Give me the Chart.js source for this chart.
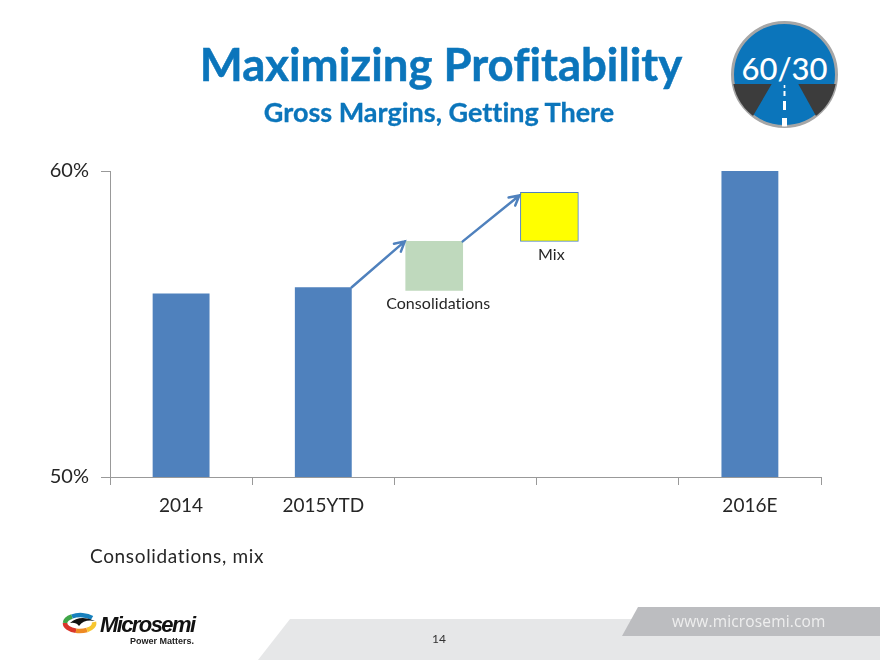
<!DOCTYPE html>
<html>
<head>
<meta charset="utf-8">
<title>Maximizing Profitability</title>
<script src="https://cdn.jsdelivr.net/npm/chart.js@4/dist/chart.umd.min.js"></script>
<style>
  html, body { margin: 0; padding: 0; background: #fff; }
  #page { position: relative; width: 880px; height: 660px; overflow: hidden; font-family: Lato, "Open Sans", sans-serif; font-variant-ligatures: none; }
  #page svg, #mycanvas { position: absolute; left: 0; top: 0; }
  .txt { position: absolute; white-space: nowrap; line-height: 1; }
  #title { left: 0; width: 882px; top: 41px; text-align: center; font-size: 45.5px; font-weight: 700; color: #0b75bb; -webkit-text-stroke: 0.5px #0b75bb; }
  #subtitle { left: 0; width: 878px; top: 98px; text-align: center; font-size: 27px; font-weight: 700; color: #0b75bb; -webkit-text-stroke: 0.3px #0b75bb; }
  #note { left: 90px; top: 546px; font-size: 19px; color: #262626; letter-spacing: 0.65px; }
  #pagenum { left: 0; width: 878px; top: 633px; text-align: center; font-size: 12px; color: #333; }
  #url { left: 672px; top: 614px; font-size: 15.5px; color: #eeeeee; letter-spacing: 0.15px; font-family: "Open Sans", sans-serif; }
  #logoword { left: 100px; top: 612px; font: italic 700 22px "Liberation Sans", sans-serif; letter-spacing: -1.6px; color: #111; }
  #logotag { left: 130px; top: 636px; font: 700 9px "Liberation Sans", sans-serif; color: #222; }
</style>
</head>
<body>
<div id="page">
  <svg width="880" height="660">
    <polygon points="258,660 290,619 880,619 880,660" fill="#e6e7e8"/>
    <polygon points="638,607 880,607 880,636 622,636" fill="#bcbdc0"/>
    <defs><clipPath id="disc"><circle cx="784.5" cy="74.5" r="52"/></clipPath></defs>
    <circle cx="784.5" cy="74.5" r="52" fill="#0b75bb" stroke="#a6a6a6" stroke-width="3"/>
    <g clip-path="url(#disc)">
      <polygon points="725,84 771.7,84 753,116 745,130 725,130" fill="#3c3c3c"/>
      <polygon points="798.3,84 845,84 845,130 824,130 816,116" fill="#3c3c3c"/>
      <rect x="783.7" y="85" width="1.6" height="3" fill="#fff"/>
      <rect x="783.5" y="91" width="2" height="5" fill="#fff"/>
      <rect x="783" y="101" width="3" height="9" fill="#fff"/>
      <rect x="782" y="118" width="5" height="10" fill="#fff"/>
    </g>
    <text x="784.5" y="80" text-anchor="middle" font-family="Lato" font-size="31" font-weight="500" fill="#fff">60/30</text>
    <g fill="none" stroke-width="4.5">
      <path d="M65 623 A15 8 0 0 1 72 616.5" stroke="#3fa648"/>
      <path d="M72 616.5 A15 8 0 0 1 92 618" stroke="#1780bd"/>
      <path d="M65 623 A15 8 0 0 0 76 630.8" stroke="#d9352a"/>
      <path d="M76 630.8 A15 8 0 0 0 87 630" stroke="#ee8a23"/>
      <path d="M87 630 A15 8 0 0 0 94 622" stroke="#f7c52f"/>
    </g>
    <path d="M70 623 Q80 614 95 621 Q84 619 79 626 Q76 622 70 623 Z" fill="#111"/>
  </svg>
  <canvas id="mycanvas" width="880" height="660"></canvas>
  <div class="txt" id="title">Maximizing Profitability</div>
  <div class="txt" id="subtitle">Gross Margins, Getting There</div>
  <div class="txt" id="note">Consolidations, mix</div>
  <div class="txt" id="pagenum">14</div>
  <div class="txt" id="url">www.microsemi.com</div>
  <div class="txt" id="logoword">Microsemi</div>
  <div class="txt" id="logotag">Power Matters.</div>
</div>
<script>
var categories = ['2014', '2015YTD', '', '', '2016E'];
var margin = [56.0, 56.2, null, null, 60.0];
var consolidationsX = [2.28];
var consolidationsRange = [56.1, 57.7];
var mixX = [3.09];
var mixRange = [57.7, 59.3];
var yTicks = [50, 60];

var blue = '#4f81bd';

function drawArrow(ctx, x1, y1, x2, y2) {
  var a = Math.atan2(y2 - y1, x2 - x1);
  ctx.strokeStyle = blue;
  ctx.lineWidth = 2.5;
  ctx.lineCap = 'round';
  ctx.beginPath();
  ctx.moveTo(x1, y1);
  ctx.lineTo(x2, y2);
  ctx.moveTo(x2 - 11 * Math.cos(a - 0.5), y2 - 11 * Math.sin(a - 0.5));
  ctx.lineTo(x2, y2);
  ctx.lineTo(x2 - 11 * Math.cos(a + 0.5), y2 - 11 * Math.sin(a + 0.5));
  ctx.stroke();
}

var bridgePlugin = {
  id: 'bridge',
  afterDatasetsDraw: function(chart) {
    var ctx = chart.ctx;
    var bar = chart.getDatasetMeta(0).data[1];
    var cons = chart.getDatasetMeta(1).data[0];
    var mix = chart.getDatasetMeta(2).data[0];
    ctx.save();
    drawArrow(ctx, bar.x + bar.width / 2, bar.y, cons.x - cons.width / 2 - 1, cons.y);
    drawArrow(ctx, cons.x + cons.width / 2, cons.y, mix.x - mix.width / 2 - 1, mix.y + 3);
    ctx.fillStyle = '#262626';
    ctx.font = '16px Lato';
    ctx.letterSpacing = '0.05px';
    ctx.textAlign = 'center';
    ctx.textBaseline = 'middle';
    ctx.fillText('Consolidations', cons.x + 4, cons.base + 14);
    ctx.fillText('Mix', mix.x + 2, mix.base + 13);
    ctx.restore();
  }
};

var chart = new Chart(document.getElementById('mycanvas'), {
  type: 'bar',
  data: {
    labels: categories,
    datasets: [
      {
        label: 'Gross margin',
        data: margin,
        backgroundColor: blue,
        barPercentage: 0.4,
        categoryPercentage: 1
      },
      {
        label: 'Consolidations',
        xAxisID: 'x2',
        data: consolidationsX.map(function(v) { return { x: v, y: consolidationsRange }; }),
        backgroundColor: '#bfd9bd',
        barThickness: 57
      },
      {
        label: 'Mix',
        xAxisID: 'x2',
        data: mixX.map(function(v) { return { x: v, y: mixRange }; }),
        backgroundColor: '#ffff00',
        borderColor: blue,
        borderWidth: 1,
        borderSkipped: false,
        barThickness: 58
      }
    ]
  },
  options: {
    responsive: false,
    animation: false,
    devicePixelRatio: 1,
    datasets: { bar: { grouped: false } },
    layout: { padding: { top: 171, right: 59, bottom: 133, left: 0 } },
    plugins: { legend: { display: false }, tooltip: { enabled: false } },
    scales: {
      x: {
        grid: { offset: true, drawOnChartArea: false, color: '#999999', tickLength: 8 },
        border: { color: '#999999' },
        ticks: { autoSkip: false, maxRotation: 0, color: '#262626', padding: 9, font: { family: 'Lato', size: 19 } },
        afterFit: function(s) { s.height = 50; }
      },
      x2: { type: 'linear', display: false, offset: false, min: 0, max: 5 },
      y: {
        min: 50,
        max: 60,
        afterBuildTicks: function(s) { s.ticks = yTicks.map(function(v) { return { value: v }; }); },
        grid: { drawOnChartArea: false, color: '#999999', tickLength: 9 },
        border: { color: '#999999' },
        ticks: {
          color: '#262626',
          padding: 12,
          font: { family: 'Lato', size: 20 },
          callback: function(v) { return v + '%'; }
        },
        afterFit: function(s) { s.width = 110; }
      }
    }
  },
  plugins: [bridgePlugin]
});
</script>
</body>
</html>
